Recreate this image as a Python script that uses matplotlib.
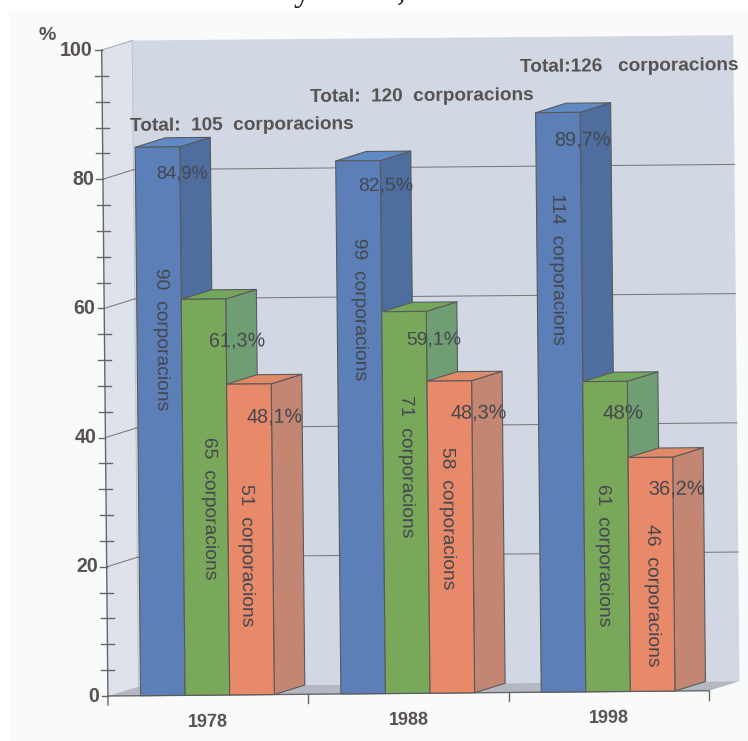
import matplotlib
matplotlib.use("Agg")
import matplotlib.pyplot as plt
from matplotlib.patches import Polygon, Rectangle
from matplotlib.transforms import Affine2D, IdentityTransform

plt.rcParams["font.family"] = ["Liberation Sans", "DejaVu Sans"]

# Data
years = ["1978", "1988", "1998"]
totals = ["Total:  105  corporacions", "Total:  120  corporacions", "Total:126   corporacions"]
blue_pct = [84.9, 82.5, 89.7]
green_pct = [61.3, 59.1, 48.0]
orange_pct = [48.1, 48.3, 36.2]
blue_n = [90, 99, 114]
green_n = [65, 71, 61]
orange_n = [51, 58, 46]
blue_txt = ["84,9%", "82,5%", "89,7%"]
green_txt = ["61,3%", "59,1%", "48%"]
orange_txt = ["48,1%", "48,3%", "36,2%"]

# Layout, in pixels
W, H = 748, 741
X0, X1 = 108.0, 709.0
Y0, Y1 = 45.0, 691.0
DEPTH = (30.5, 9.5)
BAR_START = 0.1625
BAR_W = 0.2225

PCT_OFFSET = {
    "blue": [(25, 27), (28, 25), (24.4, 27)],
    "green": [(34, 42), (29.5, 28), (18.3, 32)],
    "orange": [(26, 33), (29, 32), (26, 31)],
}
CORP_OFFSET = {
    "blue": [(3.7, 191.7), (1.5, 148), (-1, 156)],
    "green": [(5.9, 209), (1.7, 155), (-1.7, 174)],
    "orange": [(-2.6, 171), (-1.9, 137.5), (1.3, 138)],
}
TOTAL_OFFSET = [(84, -21.5), (63.7, -64), (71.7, -46)]
PCT_SIZE = {"84,9%": 13.2, "82,5%": 14, "89,7%": 14.4, "61,3%": 14.2, "59,1%": 14,
            "48%": 14.8, "48,1%": 14.2, "48,3%": 14.2, "36,2%": 14.4}

STYLE = {
    "blue": dict(front="#5b7fb6", side="#4e6e9f", top="#5f8ac3"),
    "green": dict(front="#7aa85b", side="#6f9e72", top="#73a85c"),
    "orange": dict(front="#e8896a", side="#c28672", top="#e08a68"),
}
EDGE = "#5a5a5a"
BOLD_C = "#55504f"
TEXT_C = "#44474f"
TILT = 0.5

fig = plt.figure(figsize=(W / 100, H / 100), dpi=100, facecolor="white")
ax = fig.add_axes([X0 / W, Y0 / H, (X1 - X0) / W, (Y1 - Y0) / H])
ax.set_xlim(0, 3)
ax.set_ylim(0, 100)
ax.axis("off")

# The whole plot leans slightly: x axis rises to the right, y axis leans left.
lean = (Affine2D().translate(-X0, -Y0)
        + Affine2D.from_values(1, 0.0088, -0.063 / 6.46, 1, 0, 0)
        + Affine2D().translate(X0, Y0))
T = ax.transData + lean
PIX = IdentityTransform()


def front(x, v):
    return tuple(T.transform((x, v)))


def back(x, v):
    px, py = front(x, v)
    return (px + DEPTH[0], py + DEPTH[1])


def poly(points, color, edge="none", lw=0.0, z=1):
    fig.add_artist(Polygon(points, closed=True, facecolor=color, edgecolor=edge,
                           linewidth=lw, transform=PIX, zorder=z, joinstyle="round"))


def line(p, q, color="#7a7a7a", lw=0.75, z=2):
    fig.add_artist(plt.Line2D([p[0], q[0]], [p[1], q[1]], color=color, lw=lw,
                              transform=PIX, zorder=z))


def label(px, py_top, s, size, weight="normal", color=TEXT_C, rot=TILT, **kw):
    fig.text(px / W, 1 - py_top / H, s, fontsize=size, fontweight=weight, color=color,
             rotation=rot, rotation_mode="anchor", ha=kw.pop("ha", "center"), va="center",
             zorder=20, **kw)


# Scanned page tone and the cut-off line of text above it
fig.add_artist(Rectangle((9 / W, 0), 1, 1 - 11 / H, transform=fig.transFigure,
                         facecolor="#f9fbfa", edgecolor="none", zorder=0))
fig.text(302 / W, 1.0, "y", fontsize=25, color="#111111", ha="center", va="baseline",
         family="Liberation Serif", zorder=1)
fig.text(401 / W, 1.0, ",", fontsize=25, color="#111111", ha="center", va="baseline",
         family="Liberation Serif", zorder=1)

# Walls and floor
poly([front(0, 0), back(0, 0), back(0, 100), front(0, 100)], "#dde2eb")
poly([back(0, 0), back(3, 0), back(3, 100), back(0, 100)], "#d1d8e4")
poly([front(0, 0), front(3, 0), back(3, 0), back(0, 0)], "#b3b8c3")
line(back(0, 0), back(0, 100), color="#bcc3cf", lw=0.7)
line(front(0, 100), back(0, 100), color="#a2a8b4", lw=0.7)

# Gridlines across side wall and back wall
for v in range(20, 81, 20):
    line(front(0, v), back(0, v))
    line(back(0, v), back(3, v))

# Axes and ticks
AXIS_C = "#666666"
line(T.transform((0, 0)) - (0, 9), front(0, 100), AXIS_C, 1.0, 3)
line(front(0, 0), front(3, 0), AXIS_C, 1.0, 3)
for v in range(0, 101, 4):
    px, py = front(0, v)
    line((px - 6.5, py), (px + 6.5 if v % 20 else px, py), AXIS_C, 1.0, 3)
for v in range(0, 101, 20):
    px, py = front(0, v)
    label(px - 9, H - py, str(v), 14.2, "bold", BOLD_C, ha="right")
for i in range(1, 4):
    px, py = front(i, 0)
    line((px, py), (px, py - 9), AXIS_C, 1.0, 3)

label(47, 35, "%", 14, "bold", BOLD_C)


def bar(i, slot, value, name, z):
    left = i + BAR_START + slot * BAR_W
    right = left + BAR_W
    c = STYLE[name]
    # side, then top, then front so shared edges stay clean
    poly([front(right, 0), back(right, 0), back(right, value), front(right, value)],
         c["side"], EDGE, 0.8, z)
    poly([front(left, value), front(right, value), back(right, value), back(left, value)],
         c["top"], EDGE, 0.8, z)
    poly([front(left, 0), front(right, 0), front(right, value), front(left, value)],
         c["front"], EDGE, 0.8, z)
    px, py = front((left + right) / 2, value)
    return px, H - py


for i, year in enumerate(years):
    series = [("blue", blue_pct[i], blue_n[i], blue_txt[i]),
              ("green", green_pct[i], green_n[i], green_txt[i]),
              ("orange", orange_pct[i], orange_n[i], orange_txt[i])]
    for slot, (name, pct, n, txt) in enumerate(series):
        cx, cy = bar(i, slot, pct, name, 5 + i * 3 + slot)
        dx, dy = PCT_OFFSET[name][i]
        label(cx + dx, cy + dy, txt, PCT_SIZE[txt])
        dx, dy = CORP_OFFSET[name][i]
        label(cx + dx, cy + dy, f"{n}  corporacions", 13.9, rot=270 + TILT)
        if name == "blue":
            dx, dy = TOTAL_OFFSET[i]
            label(cx + dx, cy + dy, totals[i], 13.7, "bold", BOLD_C)
    px, py = front(i + 0.5, 0)
    label(px, H - py + 27, year, 13, "bold", BOLD_C)

fig.savefig("out.png", dpi=100, facecolor="white")
